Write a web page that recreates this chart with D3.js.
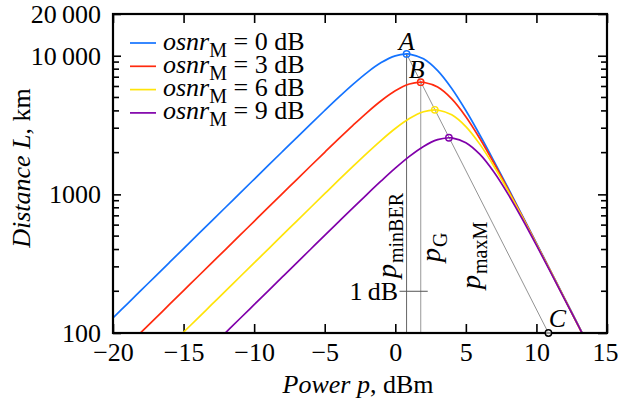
<!DOCTYPE html>
<html>
<head>
<meta charset="utf-8">
<script src="https://cdn.jsdelivr.net/npm/d3@7"></script>
<style>
  body { margin: 0; background: #fff; }
  text { font-family: "Liberation Serif", "Times New Roman", serif; fill: #000; }
</style>
</head>
<body>
<svg id="chart"></svg>
<script>
var width = 618, height = 403;

// launch power, dBm
var power = [-20, -19, -18, -17, -16, -15, -14, -13, -12, -11, -10, -9, -8, -7, -6, -5, -4, -3, -2, -1,
             0, 1, 2, 3, 4, 5, 6, 7, 8, 9, 10, 11, 12, 13, 14];

// distance in km for each osnr_M value
var dist0 = [128.5, 161.8, 203.7, 256.4, 322.8, 406.4, 511.6, 644, 810.7, 1021, 1285, 1617, 2034, 2558, 3213, 4027, 5025, 6216, 7562, 8922,
             9980, 10278, 9497, 7805, 5804, 4024, 2671, 1730, 1107, 703, 445, 281, 178, 112, 71];
var dist3 = [63.9, 80.5, 101.3, 127.5, 160.6, 202.2, 254.5, 320.4, 403.4, 507.7, 639.1, 804.4, 1012, 1274, 1602, 2012, 2522, 3147, 3894, 4735,
             5587, 6249, 6436, 5944, 4888, 3636, 2520, 1673, 1083, 693, 440, 279, 176, 111, 70];
var dist6 = [32, 40.3, 50.8, 63.9, 80.5, 101.3, 127.6, 160.6, 202.2, 254.5, 320.4, 403.4, 507.6, 639, 804, 1011, 1270, 1591, 1986, 2456,
             2988, 3526, 3944, 4061, 3751, 3084, 2294, 1590, 1055, 684, 437, 278, 176, 111, 70];
var dist9 = [16, 20.1, 25.3, 31.9, 40.1, 50.5, 63.7, 80.2, 101, 127.2, 160.1, 201.5, 253.7, 319.4, 401.9, 505.6, 635.7, 798.7, 1001, 1249,
             1545, 1879, 2217, 2480, 2554, 2360, 1940, 1443, 1000, 664, 430, 275, 175, 111, 70];

var seriesNames = ["0 dB", "3 dB", "6 dB", "9 dB"];
var seriesColors = ["#1473ff", "#ff2a0e", "#ffe40a", "#8000aa"];

// optimum points (circles)
var peakPower = [0.8, 1.8, 2.8, 3.8];
var peakDist = [10300, 6450, 4070, 2560];
var pointC = [10.85, 100];

var xTicks = [-20, -15, -10, -5, 0, 5, 10, 15];
var yTicks = [100, 1000, 10000, 20000];
var yMinor = [200, 300, 400, 500, 600, 700, 800, 900, 2000, 3000, 4000, 5000, 6000, 7000, 8000, 9000];
var dBMark = [0.3, 2.3, 200];

var allDist = [dist0, dist3, dist6, dist9];

var svg = d3.select("#chart").attr("width", width).attr("height", height);

var x = d3.scaleLinear().domain([-20, 15]).range([113, 607]);
var y = d3.scaleLog().domain([100, 20000]).range([333, 14]);

svg.append("clipPath").attr("id", "clip")
  .append("rect").attr("x", 113).attr("y", 14).attr("width", 494).attr("height", 319);

var fmtY = function(d) { return d >= 10000 ? d3.format(",")(d).replace(",", "\u2009") : d; };
var fmtX = function(d) { return d < 0 ? "\u2212" + Math.abs(d) : d; };

// axes, ticks pointing inward
var gx = svg.append("g").attr("transform", "translate(0,333)")
  .call(d3.axisBottom(x).tickValues(xTicks).tickSize(-9).tickPadding(10).tickFormat(fmtX));
svg.append("g").attr("transform", "translate(0,14)")
  .call(d3.axisTop(x).tickValues(xTicks).tickSize(-9).tickFormat(""));
svg.append("g").attr("transform", "translate(113,0)")
  .call(d3.axisLeft(y).tickValues(yTicks).tickSize(-8).tickPadding(12).tickFormat(fmtY));
svg.append("g").attr("transform", "translate(607,0)")
  .call(d3.axisRight(y).tickValues(yTicks).tickSize(-9).tickFormat(""));

svg.selectAll(".domain").remove();
svg.selectAll(".tick line").attr("stroke", "#000").attr("stroke-width", 1.6);
svg.selectAll(".tick text").style("font-size", "26px");
// last label sits at the page edge, keep it inside
gx.selectAll(".tick text").filter(function(d) { return d === 15; }).attr("dx", -2);

var minor = svg.append("g");
yMinor.forEach(function(v) {
  minor.append("line").attr("x1", 113).attr("x2", 119).attr("y1", y(v)).attr("y2", y(v));
  minor.append("line").attr("x1", 607).attr("x2", 601).attr("y1", y(v)).attr("y2", y(v));
});
minor.selectAll("line").attr("stroke", "#000").attr("stroke-width", 1.6);

// annotation lines
var ann = svg.append("g").attr("clip-path", "url(#clip)");
ann.append("line")
  .attr("x1", x(peakPower[0])).attr("y1", y(peakDist[0]))
  .attr("x2", x(peakPower[0])).attr("y2", y(100))
  .attr("stroke", "#666").attr("stroke-width", 1);
ann.append("line")
  .attr("x1", x(peakPower[1])).attr("y1", y(peakDist[1]))
  .attr("x2", x(peakPower[1])).attr("y2", y(100))
  .attr("stroke", "#aaa").attr("stroke-width", 1.2);
ann.append("line")
  .attr("x1", x(peakPower[0])).attr("y1", y(peakDist[0]))
  .attr("x2", x(pointC[0])).attr("y2", y(pointC[1]))
  .attr("stroke", "#777").attr("stroke-width", 0.8);
ann.append("line")
  .attr("x1", x(dBMark[0])).attr("x2", x(dBMark[1]))
  .attr("y1", y(dBMark[2])).attr("y2", y(dBMark[2]))
  .attr("stroke", "#555").attr("stroke-width", 1);

// curves
var line = d3.line()
  .x(function(d) { return x(d[0]); })
  .y(function(d) { return y(d[1]); })
  .curve(d3.curveCatmullRom);

var curves = svg.append("g").attr("clip-path", "url(#clip)");
allDist.forEach(function(ds, i) {
  var pts = power.map(function(p, j) { return [p, ds[j]]; });
  pts.push([peakPower[i], peakDist[i]]);
  pts.sort(function(a, b) { return a[0] - b[0]; });
  curves.append("path").datum(pts)
    .attr("d", line)
    .attr("fill", "none")
    .attr("stroke", seriesColors[i])
    .attr("stroke-width", 1.7);
});

// optimum markers
peakPower.forEach(function(p, i) {
  svg.append("circle").attr("cx", x(p)).attr("cy", y(peakDist[i])).attr("r", 3.2)
    .attr("fill", "none").attr("stroke", seriesColors[i]).attr("stroke-width", 1.4);
});

// frame
svg.append("rect").attr("x", 113).attr("y", 14).attr("width", 494).attr("height", 319)
  .attr("fill", "none").attr("stroke", "#000").attr("stroke-width", 2.2);

svg.append("circle").attr("cx", x(pointC[0])).attr("cy", y(pointC[1])).attr("r", 3.2)
  .attr("fill", "#fff").attr("fill-opacity", 0.6).attr("stroke", "#000").attr("stroke-width", 1.4);

// point labels
function italicLabel(t, px, py) {
  svg.append("text").attr("x", px).attr("y", py).attr("text-anchor", "middle")
    .style("font-size", "26px").style("font-style", "italic").text(t);
}
italicLabel("A", x(peakPower[0]), y(peakDist[0]) - 4);
italicLabel("B", x(peakPower[1]) - 4, y(peakDist[1]) - 4);
italicLabel("C", x(pointC[0]) + 9, y(pointC[1]) - 6);

// rotated power labels
function rotLabel(sub, px, py) {
  var t = svg.append("text")
    .attr("transform", "translate(" + px + "," + py + ") rotate(-90)")
    .style("font-size", "28px");
  t.append("tspan").style("font-style", "italic").text("p");
  t.append("tspan").attr("dy", 7).attr("dx", 1).style("font-size", "20px").text(sub);
}
rotLabel("minBER", 396, 278);
rotLabel("G", 440, 262);
rotLabel("maxM", 480, 289);

svg.append("text").attr("x", 398).attr("y", y(dBMark[2])).attr("dy", "0.35em")
  .attr("text-anchor", "end").style("font-size", "26px").text("1\u2009dB");

// legend
var legend = svg.append("g");
seriesNames.forEach(function(name, i) {
  var ly = 43 + i * 23.3;
  legend.append("line").attr("x1", 130).attr("x2", 156).attr("y1", ly).attr("y2", ly)
    .attr("stroke", seriesColors[i]).attr("stroke-width", 1.7);
  var t = legend.append("text").attr("x", 163).attr("y", ly + 6.5).style("font-size", "26px");
  t.append("tspan").style("font-style", "italic").text("osnr");
  t.append("tspan").attr("dy", 7).style("font-size", "20px").text("M");
  t.append("tspan").attr("dy", -7).text(" = " + name);
});

// axis titles
var xt = svg.append("text").attr("x", 358).attr("y", 393).attr("text-anchor", "middle")
  .style("font-size", "26px");
xt.append("tspan").style("font-style", "italic").text("Power p");
xt.append("tspan").text(", dBm");

var yt = svg.append("text").attr("transform", "translate(30,168) rotate(-90)")
  .attr("text-anchor", "middle").style("font-size", "26px");
yt.append("tspan").style("font-style", "italic").text("Distance L");
yt.append("tspan").text(", km");
</script>
</body>
</html>
